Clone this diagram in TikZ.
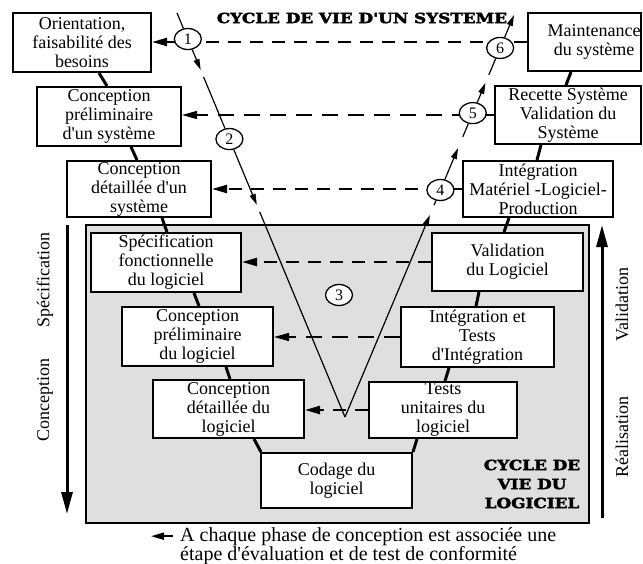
\documentclass[tikz,border=0pt]{standalone}
\usepackage{fontspec}
\setmainfont{Liberation Serif}
\newfontfamily\heavyfont{DejaVu Serif}[BoldFeatures={FakeBold=2.5}]
\usetikzlibrary{arrows.meta,shapes.geometric,calc}
\pgfdeclarelayer{back}
\pgfdeclarelayer{lines}
\pgfsetlayers{back,lines,main}
\newcommand\boxfont{\fontsize{18}{19}\selectfont}
\newcommand\ap{\textquotesingle}
\newcommand\heavy[1]{\scalebox{1.2}[1]{#1}}

\tikzset{
  box/.style={draw, line width=2pt, fill=white, inner sep=0pt, align=center, font=\boxfont},
  boxtext/.style={inner sep=0pt, align=center, font=\boxfont},
  num/.style={ellipse, draw, line width=1.3pt, fill=white, minimum width=27pt,
    minimum height=21pt, inner sep=0pt, font=\fontsize{16}{16}\selectfont},
  vlink/.style={line width=3pt},
  hthick/.style={line width=2.2pt, dash pattern=on 13pt off 9pt,
    -{Triangle[length=15pt,width=8pt]}},
  hthin/.style={line width=1.4pt, dash pattern=on 16pt off 10pt,
    -{Triangle[length=15pt,width=8pt]}},
  diag/.style={line width=1.2pt},
  darrow/.style={diag, -{Triangle[length=11pt,width=6pt]}},
  bigarrow/.style={line width=3pt, -{Triangle[length=22pt,width=11pt]}},
  sidelabel/.style={rotate=90, inner sep=0pt, font=\fontsize{18}{19}\selectfont},
  heavytitle/.style={inner sep=0pt, align=center,
    font=\heavyfont\bfseries\fontsize{14}{19}\selectfont},
}

\begin{document}
\begin{tikzpicture}[x=1pt,y=-1pt]
\useasboundingbox (0,0) rectangle (643,563);

% software life-cycle frame
\begin{pgfonlayer}{back}
  \draw[line width=2pt, fill=gray!25] (86,225) rectangle (589,523);
\end{pgfonlayer}

% system level (descending branch)
\node[box, minimum width=138, minimum height=59] (o1) at (82,42.5)
  {Orientation,\\faisabilité des\\besoins};
\node[box, minimum width=144, minimum height=59] (o2) at (109,116.5)
  {Conception\\préliminaire\\d\ap un système};
\node[box, minimum width=144, minimum height=56] (o3) at (139,189)
  {Conception\\détaillée d\ap un\\système};

% software level
\node[box, minimum width=150, minimum height=59] (spec) at (166,262.5)
  {Spécification\\fonctionnelle\\du logiciel};
\node[box, minimum width=151, minimum height=59] (prelim) at (197.5,336.5)
  {Conception\\préliminaire\\du logiciel};
\node[box, minimum width=151, minimum height=58] (detail) at (228.5,409)
  {Conception\\détaillée du\\logiciel};
\node[box, minimum width=151, minimum height=55] (codage) at (336.5,480.5)
  {Codage du\\logiciel};
\node[box, minimum width=148, minimum height=56] (tests) at (443,410)
  {Tests\\unitaires du\\logiciel};
\node[box, minimum width=153, minimum height=60] (integ) at (477.5,337)
  {Intégration et\\Tests\\d\ap Intégration};
\node[box, minimum width=151, minimum height=58] (valid) at (507.5,262)
  {Validation\\du Logiciel};

% system level (ascending branch)
\node[box, minimum width=150, minimum height=56] (intmat) at (538,189)
  {Intégration\\Matériel -Logiciel-\\Production};
\node[box, minimum width=146, minimum height=58] (recette) at (568,115)
  {Recette Système\\Validation du\\Système};
\node[box, minimum width=113, minimum height=58] (maint) at (584.5,42) {};
\node[boxtext] at (594,42) {Maintenance\\du système};

% the V path
\coordinate (ltop) at (177,13);
\coordinate (vb) at (345,417);
\coordinate (rtop) at (514,15);

\node[num] (c1) at ($(ltop)!0.0644!(vb)$) {1};
\node[num] (c2) at ($(ltop)!0.312!(vb)$) {2};
\node[num] (c3) at (339,295) {3};
\node[num] (c4) at ($(vb)!0.5647!(rtop)$) {4};
\node[num] (c5) at ($(vb)!0.756!(rtop)$) {5};
\node[num] (c6) at ($(vb)!0.918!(rtop)$) {6};

% titles
\node[heavytitle] (systitle) at (362,18) {\heavy{CYCLE DE VIE D\ap UN SYSTEME}};
\node[heavytitle] (logtitle) at (532,484)
  {\heavy{CYCLE DE}\\\heavy{VIE DU}\\\heavy{LOGICIEL}};

% side labels
\node[sidelabel] (lspec) at (45,280) {Spécification};
\node[sidelabel] (lconc) at (45,400) {Conception};
\node[sidelabel] (lvalid) at (622,305) {Validation};
\node[sidelabel] (lreal) at (622,437) {Réalisation};

\coordinate (cstart) at (67,225);
\coordinate (cend) at (67,514);
\coordinate (vstart) at (602,518);
\coordinate (vend) at (602,225);

% footnote
\node[anchor=base west, inner sep=0pt, font=\fontsize{20}{19}\selectfont] (bt1) at (180,541)
  {A chaque phase de conception est associée une};
\node[anchor=base west, inner sep=0pt, font=\fontsize{20}{19}\selectfont] (bt2) at (180,560)
  {étape d\ap évaluation et de test de conformité};

\begin{pgfonlayer}{lines}
  % links along the V
  \draw[vlink] ($(o1.south west)+(87,0)$) -- ($(o2.north west)+(71,0)$);
  \draw[vlink] ($(o2.south west)+(95,0)$) -- ($(o3.north west)+(71,0)$);
  \draw[vlink] ($(o3.south west)+(96,0)$) -- ($(spec.north west)+(77,0)$);
  \draw[vlink] ($(spec.south west)+(104,0)$) -- ($(prelim.north west)+(78,0)$);
  \draw[vlink] ($(prelim.south west)+(105,0)$) -- ($(detail.north west)+(78,0)$);
  \draw[vlink] ($(detail.south west)+(102,0)$) -- ($(codage.north west)+(1,0)$);
  \draw[vlink] (codage.north east) -- ($(tests.south west)+(49,0)$);
  \draw[vlink] ($(tests.north west)+(77,0)$) -- ($(integ.south west)+(49,0)$);
  \draw[vlink] ($(integ.north west)+(76,0)$) -- ($(valid.south west)+(48,0)$);
  \draw[vlink] ($(valid.north west)+(73,0)$) -- ($(intmat.south west)+(47,0)$);
  \draw[vlink] ($(intmat.north west)+(75,0)$) -- ($(recette.south west)+(47,0)$);
  \draw[vlink] ($(recette.north west)+(72,0)$) -- ($(maint.south west)+(44,0)$);

  % test / design correspondences
  \draw[hthick] (maint.west) -- (maint.west -| o1.east);
  \draw[hthin] (recette.west) -- (recette.west -| o2.east);
  \draw[hthick] (intmat.west) -- (intmat.west -| o3.east);
  \draw[hthick] (valid.west) -- (valid.west -| spec.east);
  \draw[hthin] (integ.west) -- (integ.west -| prelim.east);
  \draw[hthick] (tests.west) -- (tests.west -| detail.east);

  % descending branch
  \draw[diag] (ltop) -- (c1);
  \draw[darrow] (c1) -- ($(ltop)!0.141!(vb)$);
  \draw[diag] ($(ltop)!0.158!(vb)$) -- (c2);
  \draw[darrow] (c2) -- ($(ltop)!0.475!(vb)$);
  \draw[diag] ($(ltop)!0.4926!(vb)$) -- (vb);

  % ascending branch
  \draw[darrow] (vb) -- ($(vb)!0.5025!(rtop)$);
  \draw[diag] ($(vb)!0.527!(rtop)$) -- (c4);
  \draw[darrow] (c4) -- ($(vb)!0.669!(rtop)$);
  \draw[diag] ($(vb)!0.697!(rtop)$) -- (c5);
  \draw[darrow] (c5) -- ($(vb)!0.831!(rtop)$);
  \draw[diag] ($(vb)!0.851!(rtop)$) -- (c6);
  \draw[darrow] (c6) -- (rtop);

  % direction arrows
  \draw[bigarrow] (cstart) -- (cend);
  \draw[bigarrow] (vstart) -- (vend);
  \draw[line width=2pt, -{Triangle[length=13pt,width=7pt]}]
    ($(bt1.west)+(-7,0)$) -- ($(bt1.west)+(-29,0)$);
\end{pgfonlayer}
\end{tikzpicture}
\end{document}
